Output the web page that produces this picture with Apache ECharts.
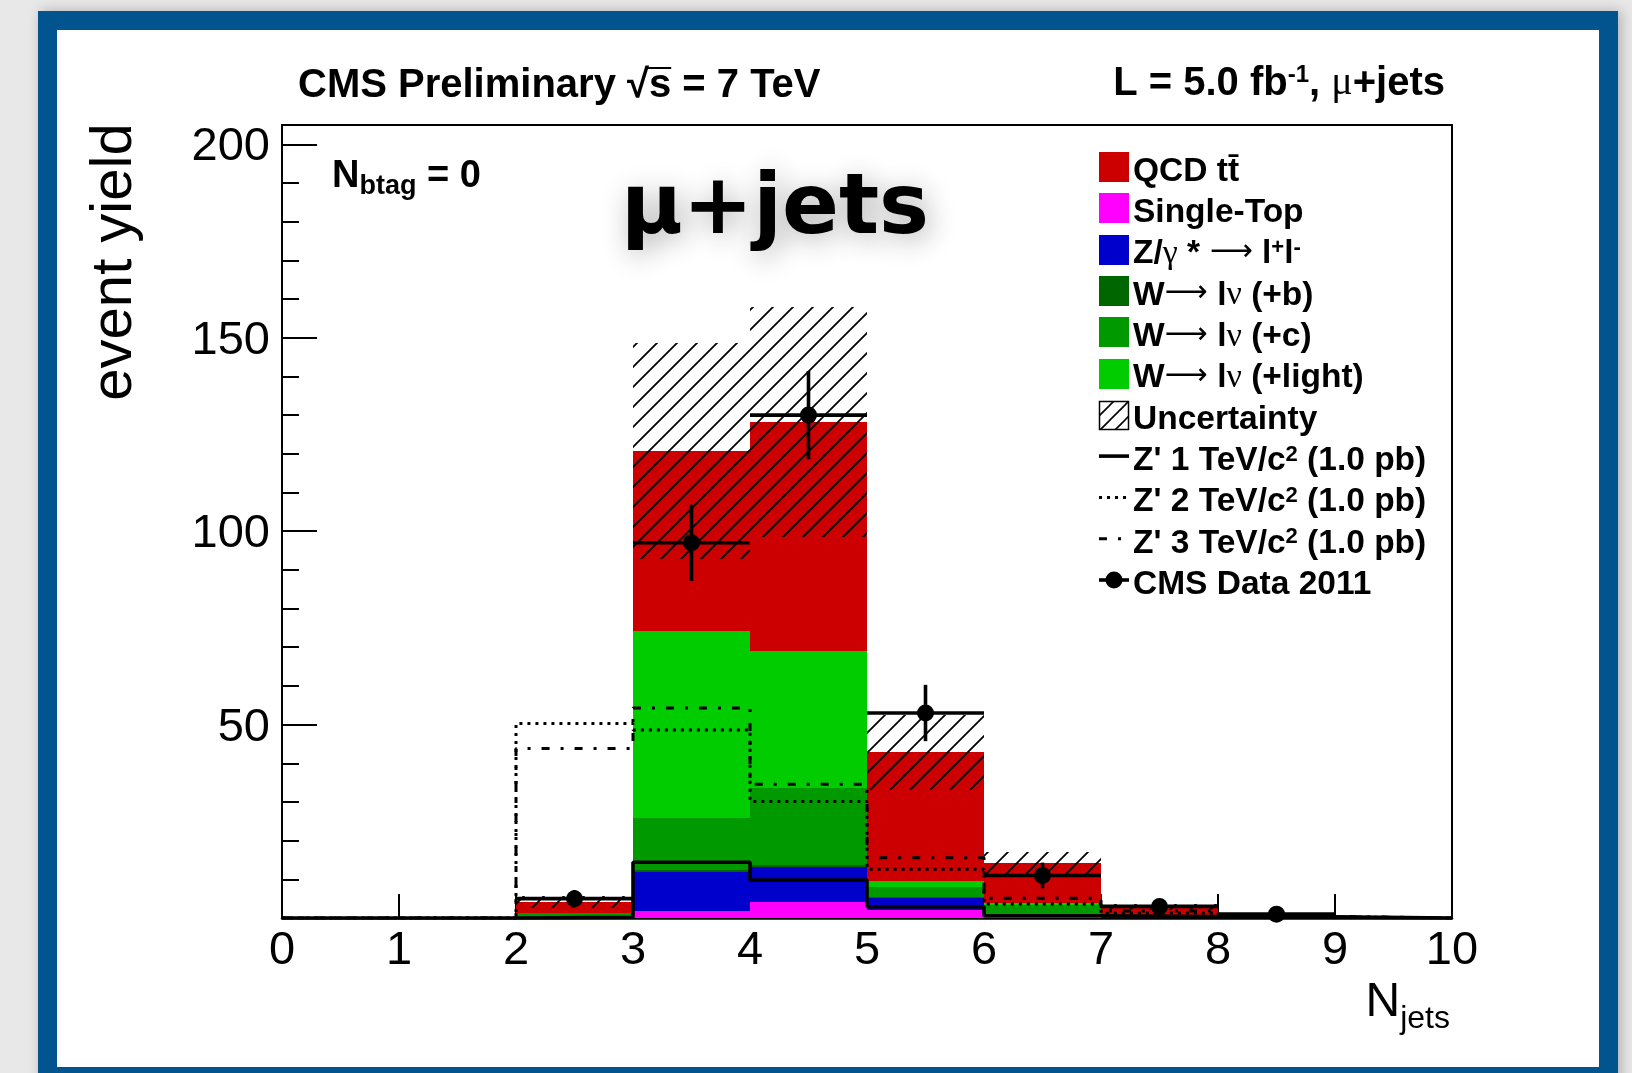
<!DOCTYPE html>
<html>
<head>
<meta charset="utf-8">
<script src="https://cdn.jsdelivr.net/npm/echarts@6.0.0/dist/echarts.min.js"></script>
<style>
  html, body { margin: 0; padding: 0; background: #e8e8e8; }
  #chart { width: 1632px; height: 1073px; }
</style>
</head>
<body>
<div id="chart"></div>
<script>
// ---- N_jets distribution, mu+jets channel, N_btag = 0 ----
// lower edges of the populated bins (each bin is one jet wide)
const binLow = [2, 3, 4, 5, 6, 7, 8];

// background components (events per bin), stacked bottom to top
const singleTop  = [0.1, 1.8, 4.2, 2.1, 0.3, 0.1, 0.0];
const zGamma     = [0.1, 10.2, 9.1, 3.0, 0.5, 0.1, 0.0];
const wPlusB     = [0.05, 0.4, 0.4, 0.2, 0.1, 0.02, 0.0];
const wPlusC     = [0.95, 13.4, 20.0, 2.8, 2.5, 0.28, 0.05];
const wPlusLight = [0.0, 48.4, 35.3, 1.5, 0.5, 0.1, 0.05];
const qcdTtbar   = [3.0, 46.5, 59.2, 33.2, 10.2, 2.2, 0.2];

// total background uncertainty (+/-) per bin
const totalUnc = [1.5, 28.0, 29.7, 9.6, 3.0, 0.8, 0.1];

// observed events, CMS data 2011
const dataCounts = [5, 97, 130, 53, 11, 3, 1];

// Z' signal templates (1.0 pb) over the full range, bins 0..9
const zpBinLow = [0, 1, 2, 3, 4, 5, 6, 7, 8, 9];
const zp1TeV = [0, 0, 0.2, 14.4, 9.8, 2.9, 0.6, 0.4, 0.3, 0];
const zp2TeV = [0, 0, 50.3, 48.6, 30.1, 12.6, 3.6, 1.3, 0.3, 0];
const zp3TeV = [0, 0, 43.8, 54.3, 34.6, 15.6, 5.1, 1.8, 0.4, 0];

// axis ranges and ticks
const xRange = [0, 10];
const yRange = [0, 205];
const yMajorStep = 50;
const yMinorStep = 10;

// ---- styling ----
const SANS = 'Liberation Sans';
const SERIF = 'Liberation Serif';
const COLORS = {
  singleTop: '#ff00ff',
  zGamma: '#0000cc',
  wPlusB: '#006600',
  wPlusC: '#009900',
  wPlusLight: '#00cc00',
  qcd: '#cc0000'
};
// offset from baseline to the em-box middle used for vertical placement
const MID = 0.3465;

// diagonal hatch tile for the uncertainty band
function makeHatch(size, width) {
  const c = document.createElement('canvas');
  c.width = size; c.height = size;
  const g = c.getContext('2d');
  g.strokeStyle = '#000';
  g.lineWidth = width;
  g.beginPath();
  g.moveTo(-size / 2, size / 2); g.lineTo(size / 2, -size / 2);
  g.moveTo(0, size); g.lineTo(size, 0);
  g.moveTo(size / 2, size * 1.5); g.lineTo(size * 1.5, size / 2);
  g.stroke();
  return c;
}
const hatchTile = makeHatch(20, 1.8);

// ---- stacked background ----
const components = [
  { name: 'Single-Top', values: singleTop, color: COLORS.singleTop },
  { name: 'Z/gamma*', values: zGamma, color: COLORS.zGamma },
  { name: 'W+b', values: wPlusB, color: COLORS.wPlusB },
  { name: 'W+c', values: wPlusC, color: COLORS.wPlusC },
  { name: 'W+light', values: wPlusLight, color: COLORS.wPlusLight },
  { name: 'QCD ttbar', values: qcdTtbar, color: COLORS.qcd }
];

function binRect(fill) {
  return function (params, api) {
    const p0 = api.coord([api.value(0), api.value(3)]);
    const p1 = api.coord([api.value(1), api.value(2)]);
    const x0 = Math.round(p0[0]), x1 = Math.round(p1[0]);
    const y0 = Math.round(p0[1]), y1 = Math.round(p1[1]);
    return {
      type: 'rect',
      shape: { x: x0, y: y0, width: x1 - x0, height: y1 - y0 },
      style: { fill: fill }
    };
  };
}

const cumulative = binLow.map(() => 0);
const stackSeries = components.map(c => {
  const data = binLow.map((lo, i) => {
    const b = cumulative[i];
    const t = b + c.values[i];
    cumulative[i] = t;
    return [lo, lo + 1, b, t];
  });
  return {
    type: 'custom', name: c.name, data: data,
    renderItem: binRect(c.color),
    encode: { x: [0, 1], y: [2, 3] },
    silent: true
  };
});

const uncSeries = {
  type: 'custom', name: 'Uncertainty',
  data: binLow.map((lo, i) => [lo, lo + 1, Math.max(0, cumulative[i] - totalUnc[i]), cumulative[i] + totalUnc[i]]),
  renderItem: binRect({ image: hatchTile, repeat: 'repeat' }),
  encode: { x: [0, 1], y: [2, 3] },
  silent: true
};

// ---- Z' step histograms ----
function stepData(values) {
  const d = zpBinLow.map((lo, i) => [lo, values[i]]);
  d.push([zpBinLow[zpBinLow.length - 1] + 1, values[values.length - 1]]);
  return d;
}
function zpSeries(name, values, type, width) {
  return {
    type: 'line', name: name, step: 'end', data: stepData(values),
    symbol: 'none', silent: true, animation: false,
    lineStyle: { color: '#000', width: width, type: type, cap: 'butt' }
  };
}

// ---- data points with error bars ----
const dataSeries = {
  type: 'custom', name: 'CMS Data 2011',
  data: binLow.map((lo, i) => [lo + 0.5, dataCounts[i], lo, lo + 1]),
  encode: { x: 0, y: 1 },
  silent: true,
  renderItem: function (params, api) {
    const n = api.value(1);
    const err = Math.sqrt(n);
    const c = api.coord([api.value(0), n]);
    const left = api.coord([api.value(2), n]);
    const right = api.coord([api.value(3), n]);
    const top = api.coord([api.value(0), n + err]);
    const bot = api.coord([api.value(0), Math.max(0, n - err)]);
    const ls = { stroke: '#000', lineWidth: 3.6 };
    return {
      type: 'group',
      children: [
        { type: 'line', shape: { x1: left[0], y1: c[1], x2: right[0], y2: c[1] }, style: ls },
        { type: 'line', shape: { x1: c[0], y1: top[1], x2: c[0], y2: bot[1] }, style: ls },
        { type: 'circle', shape: { cx: c[0], cy: c[1], r: 8.5 }, style: { fill: '#000' } }
      ]
    };
  }
};

// ---- layout (pixels) ----
const GRID = { left: 282, top: 125, right: 180, bottom: 155 };

// text-measurement helper
const measureCtx = document.createElement('canvas').getContext('2d');
function textWidth(str, font) { measureCtx.font = font; return measureCtx.measureText(str).width; }
function fontStr(weight, size, family) { return weight + ' ' + size + 'px "' + family + '"'; }

// a plain text element placed by its baseline
function baselineText(str, x, baseline, size, weight, family, align) {
  return {
    type: 'text', z: 10, x: x, y: baseline - MID * size,
    style: { text: str, font: fontStr(weight, size, family), fill: '#000', align: align || 'left', verticalAlign: 'middle' }
  };
}

// legend
const LEG_X = 1099, LEG_TEXT_X = 1133, LEG_Y0 = 167, LEG_DY = 41.3, LEG_FS = 33.5;
const legRich = {
  b: { fontFamily: SANS, fontWeight: 'bold', fontSize: LEG_FS, lineHeight: 40, verticalAlign: 'top', fill: '#000' },
  g: { fontFamily: SERIF, fontWeight: 'normal', fontSize: 34, lineHeight: 40, verticalAlign: 'top', fill: '#000' },
  a: { fontFamily: 'DejaVu Sans', fontWeight: 'normal', fontSize: 30, lineHeight: 40, verticalAlign: 'top', fill: '#000' },
  s: { fontFamily: SANS, fontWeight: 'bold', fontSize: 22, lineHeight: 26, verticalAlign: 'top', fill: '#000' },
  s2: { fontFamily: SANS, fontWeight: 'bold', fontSize: 22, lineHeight: 21, verticalAlign: 'top', fill: '#000' }
};
const legendEntries = [
  { kind: 'box', color: COLORS.qcd, text: '{b|QCD tt\u0304}' },
  { kind: 'box', color: COLORS.singleTop, text: '{b|Single-Top}' },
  { kind: 'box', color: COLORS.zGamma, text: '{b|Z/}{g|γ}{b| *}{a| \u27F6}{b| l}{s|+}{b|l}{s|-}' },
  { kind: 'box', color: COLORS.wPlusB, text: '{b|W}{a|\u27F6 }{b|l}{g|ν}{b| (+b)}' },
  { kind: 'box', color: COLORS.wPlusC, text: '{b|W}{a|\u27F6 }{b|l}{g|ν}{b| (+c)}' },
  { kind: 'box', color: COLORS.wPlusLight, text: '{b|W}{a|\u27F6 }{b|l}{g|ν}{b| (+light)}' },
  { kind: 'hatch', text: '{b|Uncertainty}' },
  { kind: 'line', dash: 'solid', width: 3.6, text: "{b|Z' 1 TeV/c}{s2|2}{b| (1.0 pb)}" },
  { kind: 'line', dash: [3, 5], width: 3, text: "{b|Z' 2 TeV/c}{s2|2}{b| (1.0 pb)}" },
  { kind: 'line', dash: [8, 11, 3, 11], width: 3, text: "{b|Z' 3 TeV/c}{s2|2}{b| (1.0 pb)}" },
  { kind: 'data', text: '{b|CMS Data 2011}' }
];

const legendGraphics = [];
legendEntries.forEach((e, i) => {
  const cy = LEG_Y0 + LEG_DY * i;
  if (e.kind === 'box') {
    legendGraphics.push({ type: 'rect', shape: { x: LEG_X, y: Math.round(cy - 15), width: 30, height: 30 }, style: { fill: e.color } });
  } else if (e.kind === 'hatch') {
    legendGraphics.push({ type: 'rect', shape: { x: LEG_X + 0.5, y: Math.round(cy - 14) + 0.5, width: 29, height: 28 },
      style: { fill: { image: makeHatch(15, 1.6), repeat: 'repeat' }, stroke: '#000', lineWidth: 1.5 } });
  } else if (e.kind === 'line') {
    legendGraphics.push({ type: 'line', shape: { x1: LEG_X, y1: cy, x2: LEG_X + 30, y2: cy },
      style: { stroke: '#000', lineWidth: e.width, lineDash: e.dash === 'solid' ? null : e.dash } });
  } else if (e.kind === 'data') {
    legendGraphics.push({ type: 'line', shape: { x1: LEG_X, y1: cy, x2: LEG_X + 30, y2: cy }, style: { stroke: '#000', lineWidth: 3.6 } });
    legendGraphics.push({ type: 'circle', shape: { cx: LEG_X + 15, cy: cy, r: 8.5 }, style: { fill: '#000' } });
  }
  legendGraphics.push({
    type: 'text', x: LEG_TEXT_X, y: cy - 12.4,
    style: { text: e.text, rich: legRich, align: 'left', verticalAlign: 'top' }
  });
});

// header line: "CMS Preliminary √s = 7 TeV" with an overbar on s
const HDR_FS = 40;
const HDR_FONT = fontStr('bold', HDR_FS, SANS);
const HDR_X = 298, HDR_BASE = 100;
const sBarX0 = HDR_X + textWidth('CMS Preliminary \u221A', HDR_FONT);
const sBarX1 = sBarX0 + textWidth('s', HDR_FONT);

// selection label N_btag = 0 (subscript placed explicitly)
const NB_X = 332, NB_BASE = 190, NB_FS = 38, NB_SUB = 27;
const nbW1 = textWidth('N', fontStr('bold', NB_FS, SANS));
const nbW2 = textWidth('btag', fontStr('bold', NB_SUB, SANS));

// x-axis title N_jets, right aligned to the frame
const NJ_RIGHT = 1450, NJ_BASE = 1019, NJ_FS = 48, NJ_SUB = 32;
const njW1 = textWidth('N', fontStr('normal', NJ_FS, SANS));
const njW2 = textWidth('jets', fontStr('normal', NJ_SUB, SANS));
const njX = NJ_RIGHT - njW1 - njW2;

const chart = echarts.init(document.getElementById('chart'), null, { renderer: 'canvas', width: 1632, height: 1073 });

chart.setOption({
  backgroundColor: '#e8e8e8',
  animation: false,
  grid: { left: GRID.left, top: GRID.top, right: GRID.right, bottom: GRID.bottom,
          show: true, borderColor: '#000', borderWidth: 2, backgroundColor: 'transparent', containLabel: false },
  xAxis: {
    type: 'value', min: xRange[0], max: xRange[1], interval: 1,
    axisLine: { show: true, onZero: false, lineStyle: { color: '#000', width: 2.5 } },
    axisTick: { show: true, inside: true, length: 24, lineStyle: { color: '#000', width: 2 } },
    axisLabel: { show: true, margin: 10, color: '#000', fontFamily: SANS, fontSize: 47 },
    splitLine: { show: false }
  },
  yAxis: [
    {
      type: 'value', min: yRange[0], max: yRange[1], interval: yMajorStep,
      axisLine: { show: true, lineStyle: { color: '#000', width: 2 } },
      axisTick: { show: true, inside: true, length: 35, lineStyle: { color: '#000', width: 2 } },
      axisLabel: { show: true, margin: 12, color: '#000', fontFamily: SANS, fontSize: 47,
                   verticalAlign: 'top', lineHeight: 6,
                   formatter: v => (v > 0 && v % yMajorStep === 0 ? String(v) : '') },
      splitLine: { show: false }
    },
    {
      type: 'value', min: yRange[0], max: yRange[1], interval: yMinorStep, position: 'left',
      axisLine: { show: false },
      axisTick: { show: true, inside: true, length: 17, lineStyle: { color: '#000', width: 2 } },
      axisLabel: { show: false },
      splitLine: { show: false }
    }
  ],
  series: [].concat(
    stackSeries,
    [uncSeries,
     zpSeries("Z' 3 TeV", zp3TeV, [8, 11, 3, 11], 3),
     zpSeries("Z' 2 TeV", zp2TeV, [3, 5], 3),
     zpSeries("Z' 1 TeV", zp1TeV, 'solid', 3.6),
     dataSeries]
  ),
  graphic: {
    elements: [
      // page frame
      { type: 'rect', z: -10, shape: { x: 38, y: 11, width: 1580, height: 1080 },
        style: { fill: '#02548f', shadowBlur: 12, shadowColor: 'rgba(0,0,0,0.25)', shadowOffsetX: 3 } },
      { type: 'rect', z: -9, shape: { x: 57, y: 30, width: 1542, height: 1037 }, style: { fill: '#ffffff' } },

      // header texts
      baselineText('CMS Preliminary \u221As = 7 TeV', HDR_X, HDR_BASE, HDR_FS, 'bold', SANS, 'left'),
      { type: 'line', z: 10, shape: { x1: sBarX0 - 2, y1: HDR_BASE - 32, x2: sBarX1, y2: HDR_BASE - 32 },
        style: { stroke: '#000', lineWidth: 2 } },
      { type: 'text', z: 10, x: 1445, y: HDR_BASE - 36.5,
        style: {
          text: '{b|L = 5.0 fb}{s|-1}{b|, }{g|μ}{b|+jets}', align: 'right', verticalAlign: 'top',
          rich: {
            b: { fontFamily: SANS, fontWeight: 'bold', fontSize: HDR_FS, lineHeight: 46, verticalAlign: 'top', fill: '#000' },
            s: { fontFamily: SANS, fontWeight: 'bold', fontSize: 24, lineHeight: 31, verticalAlign: 'top', fill: '#000' },
            g: { fontFamily: SERIF, fontWeight: 'normal', fontSize: 40, lineHeight: 46, verticalAlign: 'top', fill: '#000' }
          }
        } },

      // selection label
      baselineText('N', NB_X, NB_BASE, NB_FS, 'bold', SANS),
      baselineText('btag', NB_X + nbW1, NB_BASE + 6, NB_SUB, 'bold', SANS),
      baselineText(' = 0', NB_X + nbW1 + nbW2, NB_BASE, NB_FS, 'bold', SANS),

      // channel label
      { type: 'text', z: 10, x: 621, y: 240 - 0.346 * 84,
        style: { text: 'μ+jets', fontFamily: 'DejaVu Sans', fontWeight: 'bold', fontSize: 84, fill: '#000',
                 align: 'left', verticalAlign: 'middle',
                 textShadowColor: 'rgba(0,0,0,0.32)', textShadowBlur: 28, textShadowOffsetX: 4, textShadowOffsetY: 5 } },

      // axis titles
      { type: 'text', z: 10, x: 115, y: 262, rotation: Math.PI / 2,
        style: { text: 'event yield', fontFamily: SANS, fontSize: 58, fill: '#000', align: 'center', verticalAlign: 'middle' } },
      baselineText('N', njX, NJ_BASE, NJ_FS, 'normal', SANS),
      baselineText('jets', njX + njW1, NJ_BASE + 11, NJ_SUB, 'normal', SANS)
    ].concat(legendGraphics.map(g => Object.assign({ z: 10 }, g)))
  }
});
</script>
</body>
</html>
